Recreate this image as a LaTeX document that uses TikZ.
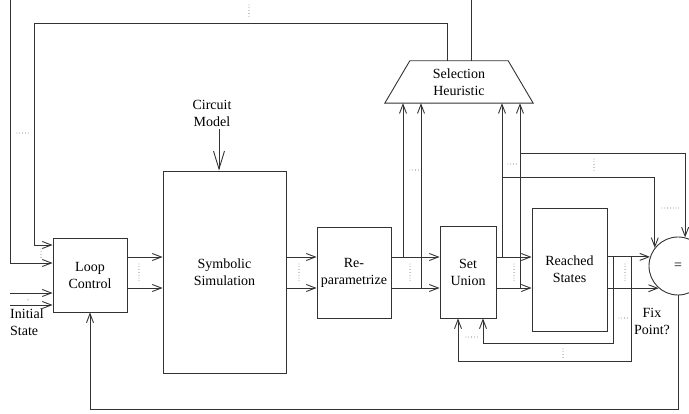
\documentclass[tikz,border=0pt]{standalone}
\usepackage{fontspec}
\setmainfont{Liberation Serif}
\usetikzlibrary{arrows.meta,calc}
\begin{document}
\begin{tikzpicture}[x=1pt,y=-1pt,
  line/.style={draw=black!80, line width=0.9pt},
  arr/.style={line, -{Straight Barb[length=9pt,width=7pt]}},
  bigarr/.style={line, -{Straight Barb[length=18pt,width=11pt]}},
  txt/.style={align=center, inner sep=0pt, font=\fontsize{14}{17}\selectfont},
  box/.style={txt, draw=black!80, line width=0.9pt},
  dotsl/.style={draw=black!80, line width=0.8pt, line cap=round, dash pattern=on 0pt off 2.8pt}]
\useasboundingbox (0,0) rectangle (689,414);

% blocks
\node[box, minimum width=74pt, minimum height=74pt] (lc) at (90,275) {Loop\\Control};
\node[box, minimum width=123pt, minimum height=202pt] (ss) at (224.5,272) {Symbolic\\Simulation};
\node[box, minimum width=74pt, minimum height=91pt] (rp) at (354,272.5) {Re-\\parametrize};
\node[box, minimum width=56pt, minimum height=92pt] (su) at (468,272) {Set\\Union};
\node[box, minimum width=75pt, minimum height=123pt] (rs) at (569.5,269.5) {Reached\\States};
\node[txt, minimum width=148pt, minimum height=42pt] (sh) at (459,82) {Selection\\Heuristic};
\draw[line] (sh.south west) -- ($(sh.north west)+(25,0)$) -- ($(sh.north east)+(-25,0)$) -- (sh.south east) -- cycle;
\node[txt, draw=black!80, line width=0.9pt, circle, minimum size=58pt] (eq) at (678,266) {=};

% labels
\node[txt] (cm) at (212,113) {Circuit\\Model};
\node[txt, align=left, anchor=west] (init) at (10,322) {Initial\\State};
\node[txt] (fp) at (652,321) {Fix\\Point?};

% circuit model arrow
\coordinate (cma) at (219,129);
\draw[bigarr] (cma) -- (cma |- ss.north);

% main data path
\coordinate (ya) at (0,257);
\coordinate (yb) at (0,288);
\foreach \a/\b in {lc/ss, ss/rp, rp/su, su/rs} {
  \draw[arr] (\a.east |- ya) -- (\b.west |- ya);
  \draw[arr] (\a.east |- yb) -- (\b.west |- yb);
}
\draw[arr] (rs.east |- eq.162) -- (eq.162);
\draw[arr] (rs.east |- eq.229) -- (eq.229);

% branches to selection heuristic
\coordinate (b1) at (403,257);
\coordinate (b2) at (421,288);
\coordinate (b3) at (502,257);
\coordinate (b4) at (520,288);
\foreach \p in {b1,b2,b3,b4} \draw[arr] (\p) -- (\p |- sh.south);

% branches to fixpoint test
\coordinate (c1) at (502,177);
\coordinate (c2) at (520,153);
\draw[arr] (c1) -| (eq.142);
\draw[arr] (c2) -| (eq.76);

% feedback reached -> set union
\coordinate (r1) at (613,257);
\coordinate (r2) at (631,257);
\coordinate (f1) at (483,343);
\coordinate (f2) at (458,361);
\draw[arr] (r1) |- (f1) -- (f1 |- su.south);
\draw[arr] (r2) |- (f2) -- (f2 |- su.south);

% fix point -> loop control
\coordinate (g) at (90,409);
\draw[arr] (eq.south) |- (g) -- (lc.south);

% selection heuristic -> loop control
\coordinate (t1) at (447,23);
\coordinate (t2) at (34,23);
\coordinate (t3) at (34,245);
\draw[arr] (t1 |- sh.north) -- (t1) -- (t2) -- (t3) -- (t3 -| lc.west);
\coordinate (s1) at (471,-2);
\coordinate (s2) at (10,-2);
\coordinate (s3) at (10,263);
\draw[arr] (s1 |- sh.north) -- (s1) -- (s2) -- (s3) -- (s3 -| lc.west);

% initial state inputs
\coordinate (i1) at (10,293);
\coordinate (i2) at (10,305);
\draw[arr] (i1) -- (i1 -| lc.west);
\draw[arr] (i2) -- (i2 -| lc.west);

% ellipsis dots
\draw[dotsl] (249,5) -- (249,18);
\draw[dotsl] (17,133) -- (29,133);
\draw[dotsl] (41,249) -- (41,259);
\fill[black!80] (28,300) circle (0.5pt);
\draw[dotsl] (139,264) -- (139,282);
\draw[dotsl] (299,264) -- (299,282);
\draw[dotsl] (410,264) -- (410,282);
\draw[dotsl] (410,170) -- (421,170);
\draw[dotsl] (514,264) -- (514,282);
\draw[dotsl] (508,164) -- (519,164);
\draw[dotsl] (594,159) -- (594,171);
\draw[dotsl] (662,208) -- (679,208);
\draw[dotsl] (625,264) -- (625,283);
\draw[dotsl] (619,318) -- (628,318);
\draw[dotsl] (466,337) -- (479,337);
\draw[dotsl] (563,349) -- (563,360);
\end{tikzpicture}
\end{document}
